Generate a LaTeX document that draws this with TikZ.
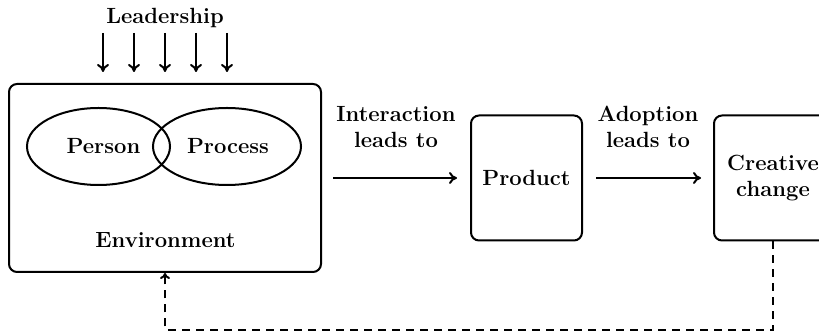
\documentclass[tikz,border=0pt]{standalone}
\usetikzlibrary{arrows.meta,shapes.geometric}
\begin{document}
\begin{tikzpicture}[x=0.5pt,y=-0.5pt,
  every node/.style={font=\fontsize{11}{13}\selectfont\bfseries},
  boxstyle/.style={draw,line width=1pt,rounded corners=4pt,inner sep=0pt,align=center},
  ellstyle/.style={draw,ellipse,line width=1pt,inner sep=0pt,minimum height=38.5pt},
  arr/.style={-{To[length=4pt,width=6pt]},line width=1pt},
  dasharr/.style={-{To[length=3pt,width=5pt]},line width=1pt,dash pattern=on 4pt off 3pt}]
\useasboundingbox (0,0) rectangle (819,335);
\node[boxstyle,minimum width=156pt,minimum height=94pt] (env) at (165,178) {};
\node (envlabel) at (165.5,240) {Environment};
\node[ellstyle,minimum width=71.5pt] (person) at (98.5,146.5) {};
\node[ellstyle,minimum width=74pt] (process) at (227,146.5) {};
\node (personlabel) at (103.5,146.5) {Person};
\node (processlabel) at (228,146.5) {Process};
\node (lead) at (165,18) {Leadership};
\foreach \x [count=\i] in {103,134,165,196,227}{
  \coordinate (ls\i) at (\x,33);
  \coordinate (le\i) at (\x,72);
  \draw[arr] (ls\i) -- (le\i);
}
\node[boxstyle,minimum width=55.5pt,minimum height=62.5pt] (prod) at (526.5,178) {Product};
\node[boxstyle,minimum width=59pt,minimum height=62.5pt] (cre) at (773,178) {Creative\\change};
\draw[arr,shorten <=5.5pt,shorten >=6.5pt] (env.east) -- (prod.west)
  node[midway,yshift=25.5pt,align=center] (inter) {Interaction\\leads to};
\draw[arr,shorten <=6.5pt,shorten >=6pt] (prod.east) -- (cre.west)
  node[midway,yshift=25.5pt,align=center] (adopt) {Adoption\\leads to};
\coordinate (bot) at (773,330);
\draw[dasharr] (cre.south) -- (bot) -| (env.south);
\end{tikzpicture}
\end{document}
